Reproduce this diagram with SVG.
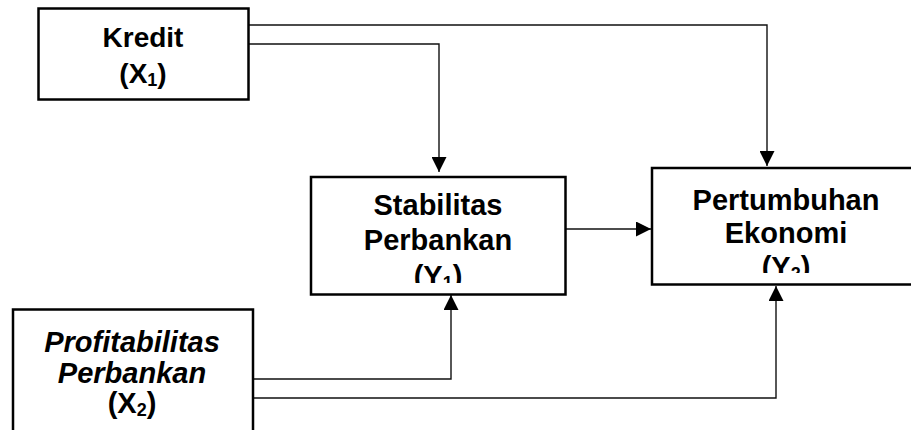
<svg xmlns="http://www.w3.org/2000/svg" width="911" height="430" viewBox="0 0 911 430">
<style>
.box{fill:#fff;stroke:#000;stroke-width:2.5}
.t{font-family:"Liberation Sans",Arial,sans-serif;font-weight:bold;font-size:29px;fill:#000;text-anchor:middle}
.i{font-style:italic}
.sub{font-size:18px}
.c{fill:none;stroke:#111;stroke-width:1.4}
</style>
<defs>
<marker id="ah" markerUnits="userSpaceOnUse" markerWidth="15" markerHeight="15" refX="15" refY="7.5" orient="auto">
<path d="M0,0 L15,7.5 L0,15 z" fill="#000"/>
</marker>
<clipPath id="clipY1"><rect x="300" y="170" width="280" height="113"/></clipPath>
<clipPath id="clipY2"><rect x="640" y="160" width="280" height="113"/></clipPath>
</defs>
<g id="connectors">
<path class="c" d="M248,44 H439 V172" marker-end="url(#ah)"/>
<path class="c" d="M248,25 H767 V166" marker-end="url(#ah)"/>
<path class="c" d="M566,229 H651" marker-end="url(#ah)"/>
<path class="c" d="M254,379 H451 V295" marker-end="url(#ah)"/>
<path class="c" d="M254,398 H776 V286" marker-end="url(#ah)"/>
</g>
<g id="kredit">
<rect class="box" x="38.5" y="8.5" width="210" height="91"/>
<text class="t" style="font-size:28px" x="143" y="47">Kredit</text>
<text class="t" style="font-size:28px" x="143" y="83">(X<tspan class="sub" dy="3">1</tspan><tspan dy="-3">)</tspan></text>
</g>
<g id="stabilitas">
<rect class="box" x="311" y="177" width="254.5" height="117.5"/>
<text class="t" x="438" y="215">Stabilitas</text>
<text class="t" x="438" y="250">Perbankan</text>
<g clip-path="url(#clipY1)"><text class="t" x="438" y="286">(Y<tspan class="sub" dy="3">1</tspan><tspan dy="-3">)</tspan></text></g>
</g>
<g id="pertumbuhan">
<rect class="box" x="652" y="168" width="270" height="116.5"/>
<text class="t" x="786" y="210">Pertumbuhan</text>
<text class="t" x="786" y="243">Ekonomi</text>
<g clip-path="url(#clipY2)"><text class="t" x="786" y="277">(Y<tspan class="sub" dy="3">2</tspan><tspan dy="-3">)</tspan></text></g>
</g>
<g id="profitabilitas">
<rect class="box" x="13" y="309.5" width="240" height="140"/>
<text class="t i" x="132" y="352">Profitabilitas</text>
<text class="t i" x="132" y="383">Perbankan</text>
<text class="t" x="132" y="413">(X<tspan class="sub" dy="3">2</tspan><tspan dy="-3">)</tspan></text>
</g>
</svg>
